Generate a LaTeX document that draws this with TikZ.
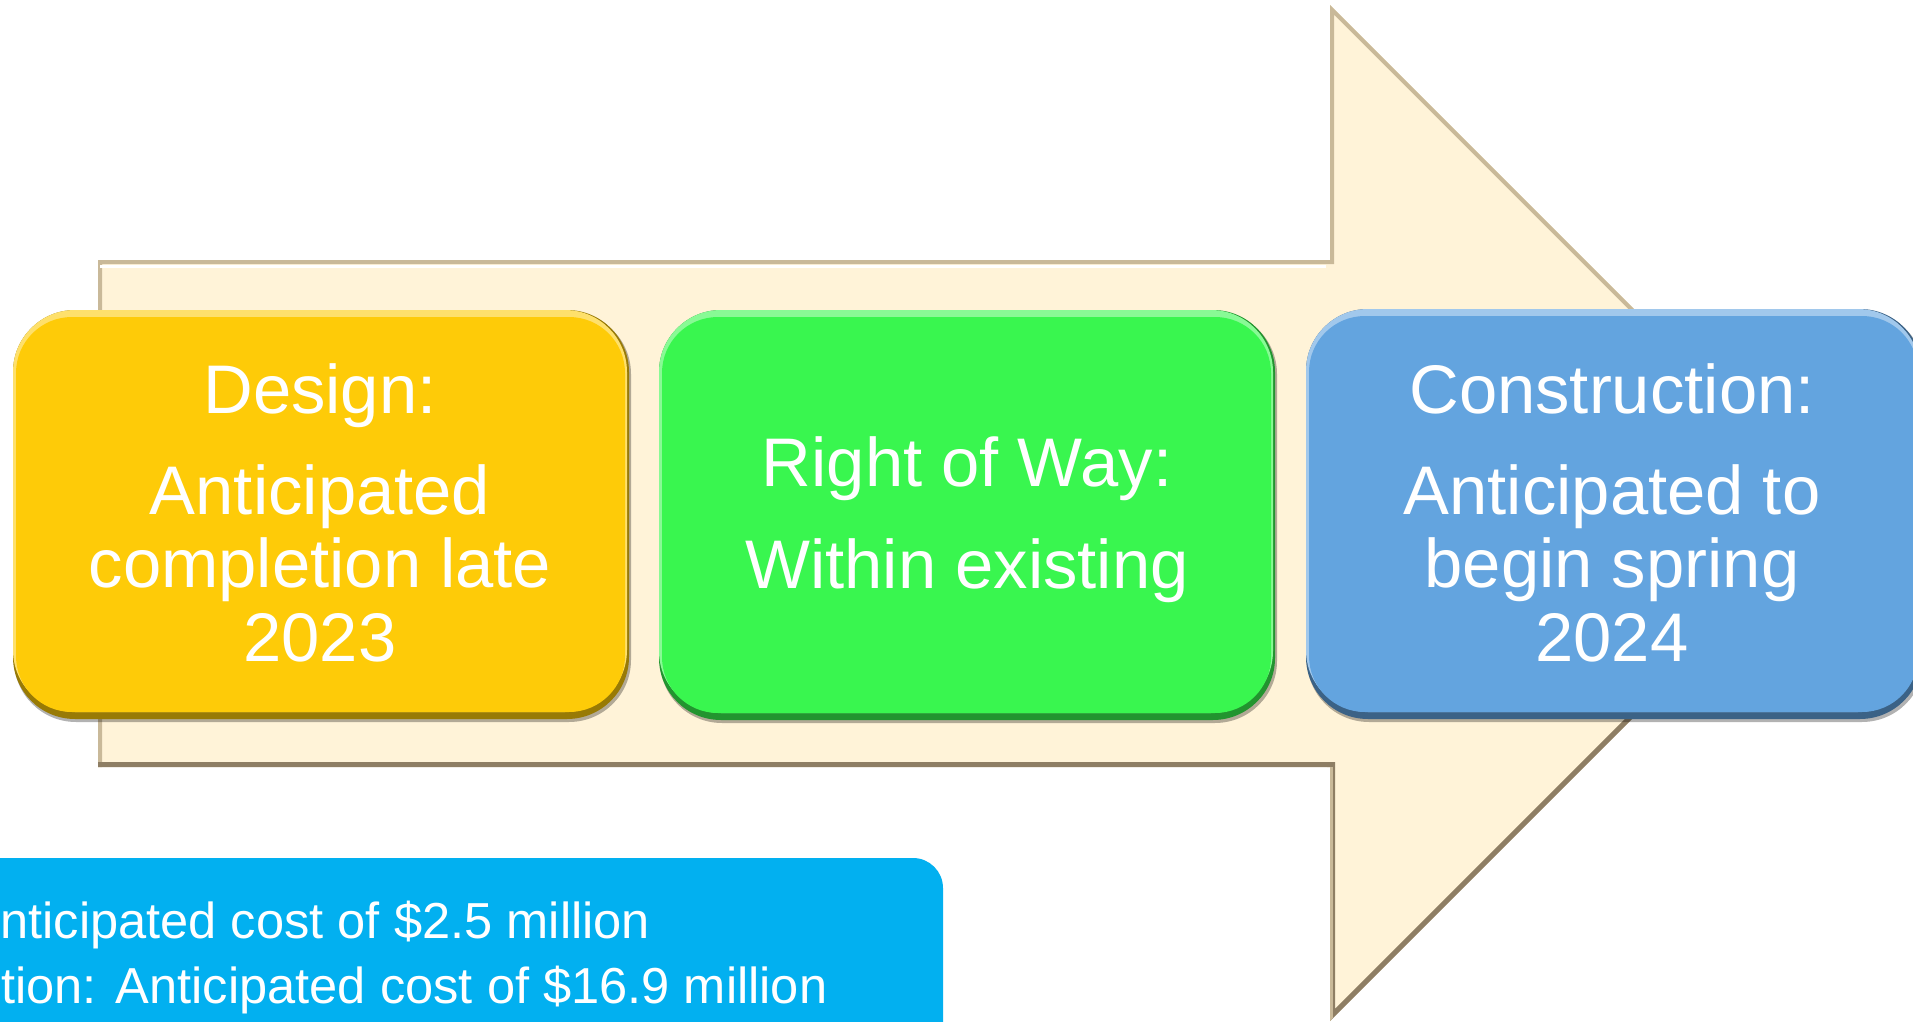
\documentclass[tikz,border=0pt]{standalone}
\usepackage{fontspec}
\setmainfont{Liberation Sans}
\definecolor{cream}{HTML}{FFF3D8}
\definecolor{creamedge}{HTML}{C9B999}
\definecolor{creamdark}{HTML}{8E7E64}
\definecolor{ybox}{HTML}{FECB08}
\definecolor{gbox}{HTML}{39F64F}
\definecolor{blbox}{HTML}{63A4DF}
\definecolor{costblue}{HTML}{02B0F0}
\newcommand\boxfont{\fontsize{34.4pt}{36.5pt}\selectfont}
\newcommand\costfont{\fontsize{25.3pt}{32pt}\selectfont}
\newcommand\bevelbox[6]{%
  \fill[black,opacity=0.3,rounded corners=31pt] ({#2+1},{#3+2}) rectangle ({#4+2},{#5+3});
  \fill[#6!60!black,rounded corners=31pt] (#2,#3) rectangle (#4,#5);
  \fill[#6!60!white,rounded corners=31pt] (#2,#3) rectangle ({#4-2},{#5-7});
  \node[boxface,fill=#6,minimum width={(#4-#2-7)*0.5pt},minimum height={(#5-#3-14)*0.5pt}] (#1) at ({(#2+#4)/2-0.5},{(#3+#5)/2}) {};
}
\tikzset{
  boxface/.style={rounded corners=28pt,inner sep=0pt,draw=none},
  txt/.style={text=white,font=\boxfont,anchor=base,inner sep=0pt},
  costtxt/.style={text=white,font=\costfont,anchor=base west,inner sep=0pt}
}
\begin{document}
\begin{tikzpicture}[x=0.5pt,y=-0.5pt]
\useasboundingbox (0,0) rectangle (1913,1022);
\clip (0,0) rectangle (1913,1022);
% arrow
\coordinate (p1) at (98,260);
\coordinate (p2) at (1330,260);
\coordinate (p3) at (1330,5);
\coordinate (p4) at (1838,513);
\coordinate (p5) at (1330,1021);
\coordinate (p6) at (1330,767);
\coordinate (p7) at (98,767);
\fill[cream] (p1) -- (p2) -- (p3) -- (p4) -- (p5) -- (p6) -- (p7) -- cycle;
\begin{scope}
  \clip (p1) -- (p2) -- (p3) -- (p4) -- (p5) -- (p6) -- (p7) -- cycle;
  \draw[creamedge,line width=4pt,line join=miter] (p7) -- (p1) -- (p2) -- (p3) -- (p4);
  \draw[white,line width=1.5pt] (100,266) -- (1326,266);
  \draw[creamdark,line width=5pt,line join=miter] (p4) -- (p5) -- (p6) -- (p7);
  \draw[creamedge,line width=3pt] (1330,767) -- (1330,1021);
\end{scope}
% boxes
\bevelbox{design}{13}{310}{629}{719}{ybox}
\bevelbox{row}{659}{310}{1275}{720}{gbox}
\bevelbox{constr}{1306}{309}{1922}{719}{blbox}
% texts
\node[txt] (d1) at (320,413) {Design:};
\node[txt] (d2) at (320,514) {Anticipated};
\node[txt] (d3) at (320,587) {completion late};
\node[txt] (d4) at (320,661) {2023};
\node[txt] (r1) at (967,486) {Right of Way:};
\node[txt] (r2) at (967,588) {Within existing};
\node[txt] (c1) at (1612,413) {Construction:};
\node[txt] (c2) at (1612,514) {Anticipated to};
\node[txt] (c3) at (1612,587) {begin spring};
\node[txt] (c4) at (1612,661) {2024};
% cost box
\node[fill=costblue,rounded corners=15pt,inner sep=0pt,minimum width=501.5pt,minimum height=111pt] (cost) at (441.5,969) {};
\node[costtxt] (k1) at (0,938) {nticipated cost of \$2.5 million};
\node[costtxt] (k2) at (1,1003) {tion: Anticipated cost of \$16.9 million};
\end{tikzpicture}
\end{document}
